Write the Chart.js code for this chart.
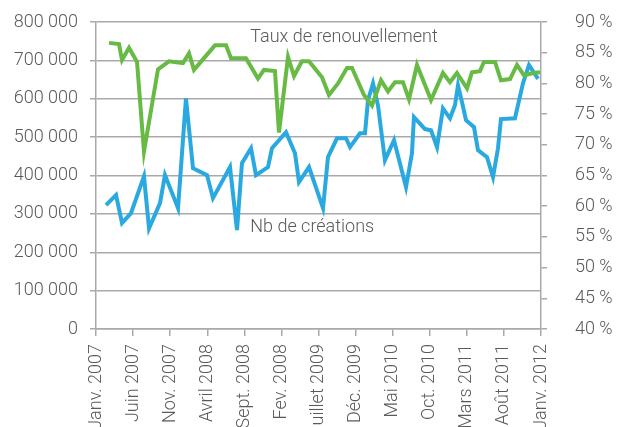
<!DOCTYPE html>
<html>
<head>
<meta charset="utf-8">
<script src="https://cdn.jsdelivr.net/npm/chart.js@4/dist/chart.umd.min.js"></script>
<style>
  body { margin: 0; background: #fff; }
  canvas { display: block; }
</style>
</head>
<body>
<canvas id="chart" width="617" height="427"></canvas>
<script>
// month labels every 5 months, starting Janv. 2007
const monthLabels = ['Janv. 2007', 'Juin 2007', 'Nov. 2007', 'Avril 2008', 'Sept. 2008', 'Fev. 2008',
    'Juillet 2009', 'Déc. 2009', 'Mai 2010', 'Oct. 2010', 'Mars 2011', 'Août 2011', 'Janv. 2012'];

// Nb de créations (months since Janv. 2007, count)
const creationMonths = [1.35, 2.7, 3.51, 4.72, 6.47, 7.15, 8.63, 9.3, 11.06, 12.13, 13.08, 14.97, 15.77,
    18.07, 19.01, 19.68, 20.9, 21.57, 23.19, 23.73, 25.62, 26.83, 27.37, 28.72, 30.61, 31.28, 32.49,
    33.71, 34.25, 35.59, 36.27, 36.67, 37.35, 38.02, 38.96, 40.18, 41.8, 42.6, 42.87, 44.36, 45.17,
    45.98, 46.78, 47.73, 48.4, 48.81, 49.35, 49.89, 50.97, 51.5, 52.72, 53.53, 54.2, 54.6, 56.49,
    57.57, 58.38, 59.6];
const creationCounts = [323000, 349000, 276000, 302000, 398000, 262000, 328000, 401000, 315000, 601000,
    419000, 401000, 341000, 422000, 258000, 432000, 471000, 401000, 422000, 471000, 513000, 458000,
    383000, 422000, 315000, 448000, 497000, 497000, 474000, 510000, 510000, 596000, 640000, 583000,
    440000, 492000, 370000, 458000, 552000, 521000, 518000, 474000, 575000, 549000, 583000, 635000,
    591000, 544000, 526000, 466000, 448000, 396000, 471000, 547000, 549000, 640000, 688000, 652000];

// Taux de renouvellement (months since Janv. 2007, %)
const renewalMonths = [1.75, 3.1, 3.51, 4.45, 5.53, 6.47, 8.36, 9.84, 11.73, 12.54, 13.21, 16.04, 17.53,
    18.2, 20.22, 21.84, 22.65, 24.13, 24.67, 25.89, 26.7, 27.77, 28.72, 30.47, 31.41, 32.63, 33.84,
    34.52, 36.13, 37.21, 38.43, 39.37, 40.31, 41.39, 42.2, 43.28, 45.17, 46.78, 47.73, 48.67, 50.02,
    50.69, 51.77, 52.31, 53.8, 54.6, 55.82, 56.76, 57.71, 58.92, 59.86];
const renewalRates = [86.6, 86.4, 83.8, 85.8, 83.5, 68.9, 82.3, 83.6, 83.3, 84.9, 82.2, 86.2, 86.2,
    84.1, 84.1, 80.8, 82.2, 82.0, 72.0, 84.3, 81.2, 83.6, 83.6, 81.0, 78.1, 80.0, 82.5, 82.5, 78.1,
    76.4, 80.5, 78.7, 80.2, 80.2, 77.4, 83.0, 77.3, 81.7, 80.2, 81.7, 79.2, 81.8, 82.0, 83.5, 83.5,
    80.5, 80.7, 83.0, 81.3, 81.7, 81.8];

const FONT = 'Roboto, "Noto Sans", sans-serif';
const GRID = '#a9a9a9';
const TEXT = '#5a5a5a';

function frNumber(v) {
    return String(v).replace(/\B(?=(\d{3})+(?!\d))/g, ' ');
}

function noOverhang(s) {
    s.paddingTop = 0;
    s.paddingBottom = 0;
    s.paddingLeft = 0;
    s.paddingRight = 0;
}

const seriesNotes = {
    id: 'seriesNotes',
    afterDatasetsDraw(chart) {
        const { ctx, scales } = chart;
        ctx.save();
        ctx.font = '300 18px ' + FONT;
        ctx.fillStyle = TEXT;
        ctx.textAlign = 'left';
        ctx.textBaseline = 'middle';
        ctx.fillText('Taux de renouvellement', scales.x.getPixelForValue(20.8), scales.y.getPixelForValue(760000));
        ctx.fillText('Nb de créations', scales.x.getPixelForValue(20.8), scales.y.getPixelForValue(265000));
        ctx.restore();
    },
};

const tickFont = { family: FONT, size: 18, weight: '300' };

new Chart(document.getElementById('chart'), {
    type: 'line',
    data: {
        datasets: [{
            label: 'Taux de renouvellement',
            data: renewalMonths.map((m, i) => ({ x: m, y: renewalRates[i] })),
            yAxisID: 'y1',
            borderColor: '#67bb45',
            borderWidth: 4,
            pointRadius: 0,
            tension: 0,
        }, {
            label: 'Nb de créations',
            data: creationMonths.map((m, i) => ({ x: m, y: creationCounts[i] })),
            yAxisID: 'y',
            borderColor: '#2aa9e0',
            borderWidth: 4,
            pointRadius: 0,
            tension: 0,
        }],
    },
    options: {
        responsive: false,
        animation: false,
        layout: { padding: { top: 22 } },
        plugins: {
            legend: { display: false },
            tooltip: { enabled: false },
        },
        scales: {
            x: {
                type: 'linear',
                min: 0,
                max: (monthLabels.length - 1) * 5,
                afterBuildTicks: (s) => { s.ticks = monthLabels.map((_, i) => ({ value: i * 5 })); },
                afterFit: (s) => { s.height = 98; noOverhang(s); },
                ticks: {
                    autoSkip: false,
                    minRotation: 90,
                    maxRotation: 90,
                    padding: 8,
                    color: TEXT,
                    font: tickFont,
                    callback: (v) => monthLabels[Math.round(v / 5)],
                },
                grid: { drawOnChartArea: false, tickLength: 7, color: GRID, lineWidth: 1.5 },
                border: { color: GRID, width: 1.5 },
            },
            y: {
                position: 'left',
                min: 0,
                max: 800000,
                afterFit: (s) => { s.width = 96; noOverhang(s); },
                ticks: {
                    stepSize: 100000,
                    padding: 12,
                    color: TEXT,
                    font: tickFont,
                    callback: (v) => frNumber(v),
                },
                grid: { color: GRID, lineWidth: 1.5, tickLength: 6 },
                border: { color: GRID, width: 1.5 },
            },
            y1: {
                position: 'right',
                min: 40,
                max: 90,
                afterFit: (s) => { s.width = 76; noOverhang(s); },
                ticks: {
                    stepSize: 5,
                    padding: 28,
                    color: TEXT,
                    font: tickFont,
                    callback: (v) => v + ' %',
                },
                grid: { drawOnChartArea: false, color: GRID, lineWidth: 1.5, tickLength: 6 },
                border: { color: GRID, width: 1.5 },
            },
        },
    },
    plugins: [seriesNotes],
});
</script>
</body>
</html>
